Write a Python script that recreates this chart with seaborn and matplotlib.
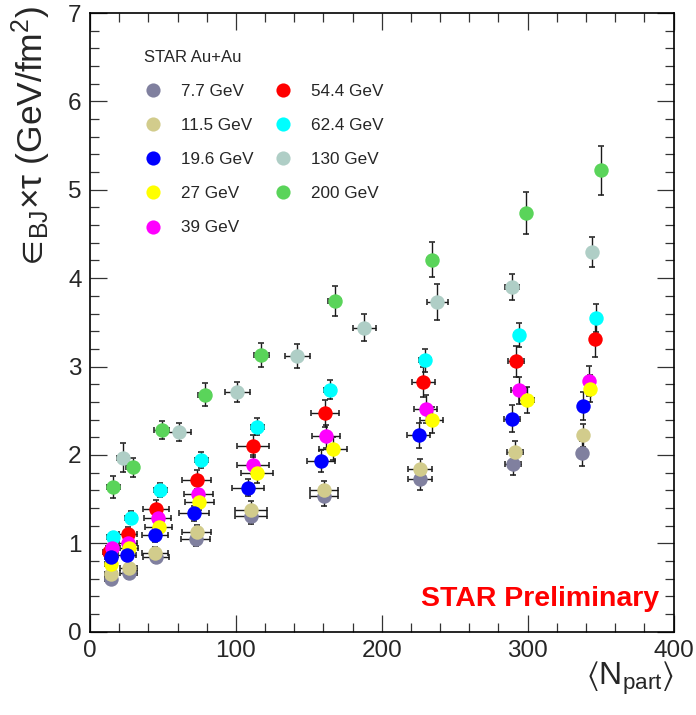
import matplotlib
matplotlib.use("Agg")
import matplotlib.pyplot as plt
from matplotlib.lines import Line2D
from matplotlib.ticker import MultipleLocator
import seaborn as sns
import pandas as pd

# ---------------- data ----------------
energies = ["7.7 GeV", "11.5 GeV", "19.6 GeV", "27 GeV", "39 GeV",
            "54.4 GeV", "62.4 GeV", "130 GeV", "200 GeV"]
colors = ["#80809f", "#d2cc8c", "#0000ff", "#ffff00", "#ff00ff",
          "#ff0000", "#00ffff", "#afcec6", "#5ad45a"]

npart_7p7 = [14.4, 26.4, 45.4, 72.5, 110.1, 160.2, 226.3, 290.1, 337.3]
eps_7p7 = [0.60, 0.66, 0.85, 1.05, 1.31, 1.54, 1.73, 1.90, 2.02]
yerr_7p7 = [0.05, 0.06, 0.07, 0.08, 0.095, 0.117, 0.125, 0.13, 0.14]

npart_11p5 = [14.4, 26.4, 44.4, 73.2, 110.1, 160.2, 226.3, 291.3, 338.2]
eps_11p5 = [0.65, 0.72, 0.89, 1.13, 1.38, 1.60, 1.84, 2.03, 2.22]
yerr_11p5 = [0.05, 0.06, 0.07, 0.08, 0.095, 0.105, 0.113, 0.125, 0.13]

npart_19p6 = [14.4, 25.3, 44.4, 71.3, 108.3, 158.4, 225.4, 289.4, 338.2]
eps_19p6 = [0.84, 0.87, 1.09, 1.34, 1.63, 1.93, 2.22, 2.41, 2.55]
yerr_19p6 = [0.06, 0.065, 0.075, 0.085, 0.10, 0.128, 0.136, 0.15, 0.16]

npart_27 = [14.4, 26.9, 47.0, 74.8, 114.2, 166.4, 234.3, 299.3, 343.0]
eps_27 = [0.77, 0.95, 1.19, 1.47, 1.79, 2.07, 2.39, 2.62, 2.75]
yerr_27 = [0.06, 0.07, 0.08, 0.09, 0.105, 0.13, 0.147, 0.15, 0.15]

npart_39 = [14.8, 26.2, 46.3, 74.1, 111.5, 162.1, 230.2, 294.2, 342.1]
eps_39 = [0.95, 1.00, 1.29, 1.56, 1.89, 2.21, 2.52, 2.73, 2.84]
yerr_39 = [0.065, 0.07, 0.085, 0.095, 0.11, 0.128, 0.155, 0.15, 0.17]

npart_54p4 = [13.2, 26.2, 45.1, 73.2, 111.5, 161.4, 228.4, 292.0, 346.2]
eps_54p4 = [0.90, 1.11, 1.39, 1.72, 2.10, 2.47, 2.82, 3.06, 3.31]
yerr_54p4 = [0.07, 0.08, 0.095, 0.11, 0.125, 0.15, 0.17, 0.175, 0.20]

npart_62p4 = [15.5, 28.0, 48.1, 76.4, 114.6, 164.3, 229.7, 294.2, 346.7]
eps_62p4 = [1.07, 1.29, 1.60, 1.94, 2.32, 2.74, 3.07, 3.36, 3.55]
yerr_62p4 = [0.06, 0.07, 0.08, 0.09, 0.10, 0.11, 0.128, 0.135, 0.16]

npart_130 = [22.8, 61.1, 101.0, 142.0, 188.0, 238.2, 289.4, 344.4]
eps_130 = [1.97, 2.26, 2.71, 3.12, 3.44, 3.73, 3.90, 4.30]
yerr_130 = [0.16, 0.105, 0.113, 0.14, 0.155, 0.20, 0.15, 0.17]

npart_200 = [15.9, 29.2, 49.2, 78.6, 117.4, 167.7, 234.7, 298.6, 350.5]
eps_200 = [1.64, 1.86, 2.28, 2.68, 3.13, 3.74, 4.21, 4.74, 5.22]
yerr_200 = [0.125, 0.105, 0.105, 0.13, 0.14, 0.17, 0.20, 0.24, 0.275]

xerr_bes = [4.0, 6.0, 9.0, 10.0, 11.0, 9.6, 8.0, 5.4, 2.5]
xerr_62p4 = [4.0, 4.0, 4.5, 4.5, 4.5, 4.0, 4.0, 3.5, 3.0]
xerr_130 = [4.0, 8.0, 8.5, 8.5, 7.9, 7.0, 5.0, 3.0]
xerr_200 = [4.5, 4.5, 5.0, 4.5, 5.0, 4.5, 4.0, 3.0, 3.0]

series = [
    ("7.7 GeV", npart_7p7, eps_7p7, xerr_bes, yerr_7p7),
    ("11.5 GeV", npart_11p5, eps_11p5, xerr_bes, yerr_11p5),
    ("19.6 GeV", npart_19p6, eps_19p6, xerr_bes, yerr_19p6),
    ("27 GeV", npart_27, eps_27, xerr_bes, yerr_27),
    ("39 GeV", npart_39, eps_39, xerr_bes, yerr_39),
    ("54.4 GeV", npart_54p4, eps_54p4, xerr_bes, yerr_54p4),
    ("62.4 GeV", npart_62p4, eps_62p4, xerr_62p4, yerr_62p4),
    ("130 GeV", npart_130, eps_130, xerr_130, yerr_130),
    ("200 GeV", npart_200, eps_200, xerr_200, yerr_200),
]

rows = []
for name, xs, ys, xe, ye in series:
    for x, y, a, b in zip(xs, ys, xe, ye):
        rows.append({"energy": name, "npart": x, "eps": y, "xerr": a, "yerr": b})
df = pd.DataFrame(rows)

# ---------------- style ----------------
sns.set_style("ticks")
plt.rcParams["font.family"] = ["Liberation Sans", "DejaVu Sans"]
plt.rcParams["mathtext.fontset"] = "custom"
plt.rcParams["mathtext.rm"] = "Liberation Sans"
plt.rcParams["mathtext.it"] = "Liberation Sans"
plt.rcParams["mathtext.bf"] = "Liberation Sans:bold"
plt.rcParams["mathtext.fallback"] = "stixsans"

fig = plt.figure(figsize=(6.96, 7.15), dpi=100)
ax = fig.add_axes([0.1293, 0.1165, 0.9677 - 0.1293, 0.9818 - 0.1165])

palette = dict(zip(energies, colors))

# error bars under the markers
for name, xs, ys, xe, ye in series:
    ax.errorbar(xs, ys, xerr=xe, yerr=ye, fmt="none", ecolor="#1a1a1a",
                elinewidth=1.0, capsize=2.4, capthick=1.1, zorder=2)

draw_order = ["130 GeV", "200 GeV", "62.4 GeV", "54.4 GeV", "39 GeV",
              "7.7 GeV", "11.5 GeV", "27 GeV", "19.6 GeV"]
for name in draw_order:
    sub = df[df["energy"] == name]
    sns.scatterplot(data=sub, x="npart", y="eps", color=palette[name],
                    s=108, linewidth=0, ax=ax, legend=False, zorder=3)

ax.set_xlim(0, 400)
ax.set_ylim(0, 7)
ax.xaxis.set_major_locator(MultipleLocator(100))
ax.xaxis.set_minor_locator(MultipleLocator(20))
ax.yaxis.set_major_locator(MultipleLocator(1))
ax.yaxis.set_minor_locator(MultipleLocator(0.2))
ax.tick_params(which="both", direction="in", top=True, right=True,
               width=0.9, color="#333333")
ax.tick_params(which="major", length=12.5, labelsize=17.5, pad=6)
ax.tick_params(which="minor", length=6.5)
for sp in ax.spines.values():
    sp.set_linewidth(1.2)
    sp.set_color("black")

ax.set_xlabel(r"$\langle$N$_{\rm part}\rangle$", fontsize=23, loc="right")
ax.xaxis.set_label_coords(1.0, -0.046)
ax.xaxis.label.set_verticalalignment("top")

ax.set_ylabel("$\\in\\!_{\\rm BJ}$×τ (GeV/fm$^{2}$)", fontsize=25.5, loc="top")
ax.yaxis.set_label_coords(-0.064, 1.012)

ax.text(0.975, 0.0415, "STAR Preliminary", transform=ax.transAxes,
        ha="right", va="baseline", color="red", fontsize=20.5, fontweight="bold")

handles = [Line2D([], [], marker="o", linestyle="none", markersize=10.2,
                  markerfacecolor=c, markeredgewidth=0, label=e)
           for e, c in zip(energies, colors)]
leg = ax.legend(handles=handles, ncol=2, loc="upper left",
                bbox_to_anchor=(0.093, 0.9405), frameon=False, fontsize=12.3,
                title="STAR Au+Au", title_fontsize=12, alignment="left",
                handlelength=1.0, handletextpad=1.15, labelspacing=1.12,
                columnspacing=1.2, borderpad=0, borderaxespad=0)

fig.savefig("out.png", dpi=100)
